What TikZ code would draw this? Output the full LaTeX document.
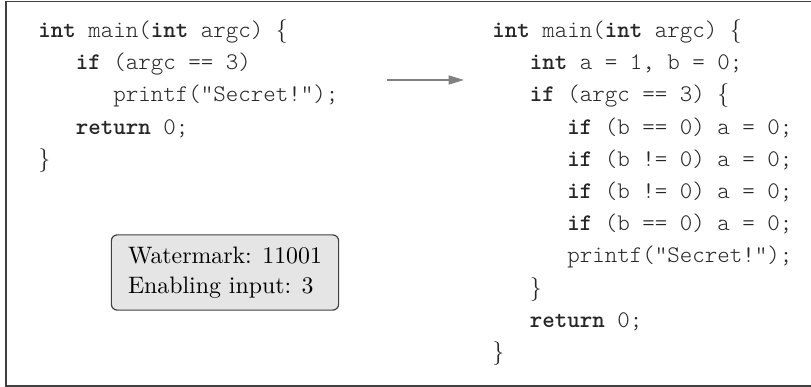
\documentclass[tikz,border=0pt]{standalone}
\usetikzlibrary{arrows.meta}
\begin{document}
\begin{tikzpicture}[x=0.42pt,y=-0.42pt,
  codeline/.style={anchor=base west,inner sep=0pt,text=black!85,font=\ttfamily\fontseries{l}\selectfont},
  frameline/.style={line width=0.6pt,draw=black!75},
  infobox/.style={draw=black!75,fill=black!10,rounded corners=2.5pt,line width=0.5pt,
    align=left,inner xsep=7pt,inner ysep=5pt,font=\rmfamily\linespread{1.05}\selectfont},
  flow/.style={draw=black!50,line width=0.6pt,-{Triangle[length=6.5pt,width=3.8pt]}}]
\useasboundingbox (0,0) rectangle (811,387);
% frame (cropped: top, left, bottom)
\draw[frameline] (811,1.5) -- (6,1.5) -- (6,386) -- (811,386);
% left code
\node[codeline] (l1) at (38,37.5) {\textbf{int} main(\textbf{int} argc) $\{$};
\node[codeline] (l2) at (75.5,69.7) {\textbf{if} (argc == 3)};
\node[codeline] (l3) at (113,101.9) {printf("Secret!");};
\node[codeline] (l4) at (75.5,134.1) {\textbf{return} 0;};
\node[codeline] (l5) at (38,166.3) {$\}$};
% right code
\node[codeline] (r1) at (492,37.5) {\textbf{int} main(\textbf{int} argc) $\{$};
\node[codeline] (r2) at (529.5,69.7) {\textbf{int} a = 1, b = 0;};
\node[codeline] (r3) at (529.5,101.9) {\textbf{if} (argc == 3) $\{$};
\node[codeline] (r4) at (567,134.1) {\textbf{if} (b == 0) a = 0;};
\node[codeline] (r5) at (567,166.3) {\textbf{if} (b != 0) a = 0;};
\node[codeline] (r6) at (567,198.5) {\textbf{if} (b != 0) a = 0;};
\node[codeline] (r7) at (567,230.7) {\textbf{if} (b == 0) a = 0;};
\node[codeline] (r8) at (567,262.9) {printf("Secret!");};
\node[codeline] (r9) at (529.5,295.1) {$\}$};
\node[codeline] (r10) at (529.5,327.3) {\textbf{return} 0;};
\node[codeline] (r11) at (492,359.5) {$\}$};
% arrow
\coordinate (a1) at (387,80);
\coordinate (a2) at (464,80);
\draw[flow] (a1) -- (a2);
% info box
\node[infobox] (info) at (225,272.5) {Watermark: 11001\\Enabling input: 3};
\end{tikzpicture}
\end{document}
